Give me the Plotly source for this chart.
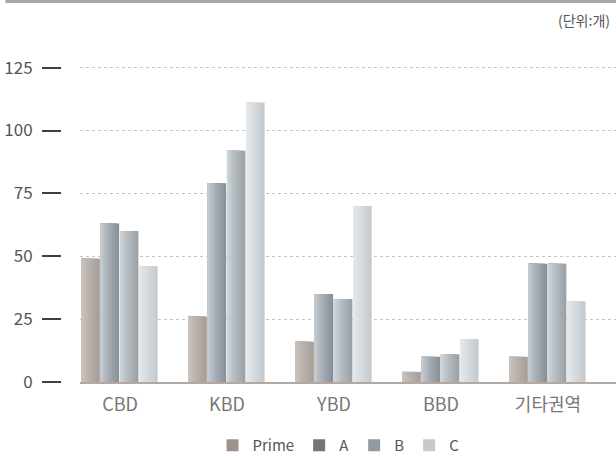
import plotly.graph_objects as go

# Office building counts by business district and grade
districts = ["CBD", "KBD", "YBD", "BBD", "기타권역"]
grades = ["Prime", "A", "B", "C"]
prime = [49, 26, 16, 4, 10]
grade_a = [63, 79, 35, 10, 47]
grade_b = [60, 92, 33, 11, 47]
grade_c = [46, 111, 70, 17, 32]
y_ticks = [0, 25, 50, 75, 100, 125]

series = [prime, grade_a, grade_b, grade_c]
# metallic look: each bar fades from a light left edge to a darker right side
left_colors = ["#cdc6c0", "#c8cfd4", "#d2d8dc", "#e8ebed"]
right_colors = ["#a69d97", "#858f98", "#98a0a6", "#c3cacf"]
legend_colors = ["#9e938c", "#6f787f", "#939a9f", "#c3c9cc"]

BAR_W = 0.172
BAR_STEP = 0.18
N_LAYERS = 10
FONT = "Noto Sans CJK KR"


def hex_to_rgb(h):
    h = h.lstrip("#")
    return tuple(int(h[i:i + 2], 16) for i in (0, 2, 4))


def blend(c1, c2, t):
    a, b = hex_to_rgb(c1), hex_to_rgb(c2)
    return "rgb(%d,%d,%d)" % tuple(round(a[i] + (b[i] - a[i]) * t) for i in range(3))


fig = go.Figure()
for gi, values in enumerate(series):
    start = -0.36 + gi * BAR_STEP
    # stacked layers, all anchored at the left edge, narrowing and lightening
    for k in range(N_LAYERS):
        frac = 1 - k / N_LAYERS
        t = frac - 0.5 / N_LAYERS
        fig.add_trace(go.Bar(
            x=list(range(len(districts))),
            y=values,
            offset=start,
            width=BAR_W * frac,
            marker=dict(color=blend(left_colors[gi], right_colors[gi], t ** 0.8),
                        line=dict(width=0)),
            showlegend=False,
            hoverinfo="skip",
        ))

# legend entries
for gi, name in enumerate(grades):
    fig.add_trace(go.Bar(x=[None], y=[None], name=name,
                         marker=dict(color=legend_colors[gi], line=dict(width=0))))

# left tick marks on a detached axis
fig.add_trace(go.Scatter(x=[None], y=[None], yaxis="y2", showlegend=False))

y_range = [0, 136]
fig.update_layout(
    width=616, height=456,
    margin=dict(l=61, r=0, t=40, b=74, autoexpand=False),
    paper_bgcolor="white", plot_bgcolor="white",
    barmode="overlay",
    font=dict(family=FONT, color="#555555"),
    xaxis=dict(
        domain=[0.0342, 1],
        range=[-0.374, 4.636],
        tickvals=list(range(len(districts))),
        ticktext=districts,
        tickfont=dict(size=18, color="#777777"),
        ticks="",
        showline=True, linecolor="#b4a9a1", linewidth=2,
        showgrid=False, zeroline=False,
        ticklabelstandoff=5,
    ),
    yaxis=dict(
        range=y_range,
        tickvals=y_ticks,
        showticklabels=False,
        ticks="",
        showgrid=True, gridcolor="#c4c4c4", griddash="dot", gridwidth=1,
        zeroline=False, showline=False,
    ),
    yaxis2=dict(
        overlaying="y", anchor="free", position=0, side="left",
        range=y_range,
        tickvals=y_ticks,
        ticks="outside", ticklen=19, tickwidth=2, tickcolor="#3f3f3f",
        tickfont=dict(size=17, color="#555555"),
        ticklabelstandoff=6,
        showgrid=False, zeroline=False, showline=False,
    ),
    legend=dict(
        orientation="h", x=0.5, xanchor="center", y=-0.186, yanchor="middle",
        font=dict(size=15, color="#555555"),
        itemwidth=30, traceorder="normal",
    ),
    shapes=[dict(type="line", xref="paper", yref="paper",
                 x0=-0.1, x1=1, y0=1 + 38.5 / 342, y1=1 + 38.5 / 342,
                 line=dict(color="#a5a5ab", width=3))],
    annotations=[dict(text="(단위:개)", xref="paper", yref="paper",
                      x=0.993, y=1 + 20 / 342, xanchor="right", yanchor="middle",
                      showarrow=False, font=dict(size=14, color="#555555"))],
)

fig.write_html("out.html")
